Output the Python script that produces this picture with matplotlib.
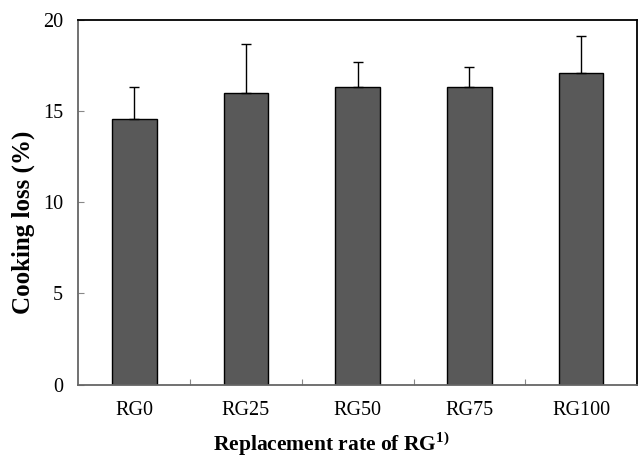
import matplotlib.pyplot as plt
import numpy as np

plt.rcParams['font.family'] = ['Liberation Serif', 'DejaVu Serif']
plt.rcParams['mathtext.fontset'] = 'custom'
plt.rcParams['mathtext.rm'] = 'Liberation Serif'
plt.rcParams['mathtext.bf'] = 'Liberation Serif:bold'

categories = ['RG0', 'RG25', 'RG50', 'RG75', 'RG100']
means = [14.56, 15.98, 16.31, 16.33, 17.06]
sds = [1.73, 2.67, 1.37, 1.06, 2.02]

fig = plt.figure(figsize=(6.38, 4.57), dpi=100)
ax = fig.add_axes([0.1227, 0.1582, 0.8757, 0.7987])

x = np.arange(len(categories))
ax.bar(x, means, width=0.4, color='#595959', edgecolor='black', linewidth=1.0, zorder=2)
ax.errorbar(x, means, yerr=[np.zeros(len(sds)), sds], fmt='none', ecolor='black',
            elinewidth=1.0, capsize=3.3, capthick=1.0, zorder=3)

ax.set_xlim(-0.5, len(categories) - 0.5)
ax.set_ylim(0, 20)
ax.set_yticks([0, 5, 10, 15, 20])
# separators between categories as major ticks, names on minor ticks
ax.set_xticks(np.arange(len(categories) - 1) + 0.5, minor=False)
ax.set_xticklabels([])
ax.set_xticks(x, minor=True)
ax.set_xticklabels(categories, minor=True)
ax.tick_params(axis='x', which='major', direction='in', length=4, color='#888888', pad=0)
ax.tick_params(axis='x', which='minor', length=0, pad=12, labelsize=14.5)
ax.tick_params(axis='y', direction='in', length=4, color='#888888', pad=11, labelsize=14.5)

for s in ['left', 'bottom']:
    ax.spines[s].set_color('#666666')
    ax.spines[s].set_linewidth(1.3)
for s in ['top', 'right']:
    ax.spines[s].set_color('black')
    ax.spines[s].set_linewidth(1.3)

ax.set_ylabel('Cooking loss (%)', fontsize=18, fontweight='bold')
ax.yaxis.set_label_coords(-0.077, 0.444)
ax.set_xlabel(r'Replacement rate of RG$^{\mathbf{1)}}$', fontsize=15.5, fontweight='bold')
ax.xaxis.label.set_va('baseline')
ax.xaxis.set_label_coords(0.453, -0.181)

fig.savefig('out.png', dpi=100)
